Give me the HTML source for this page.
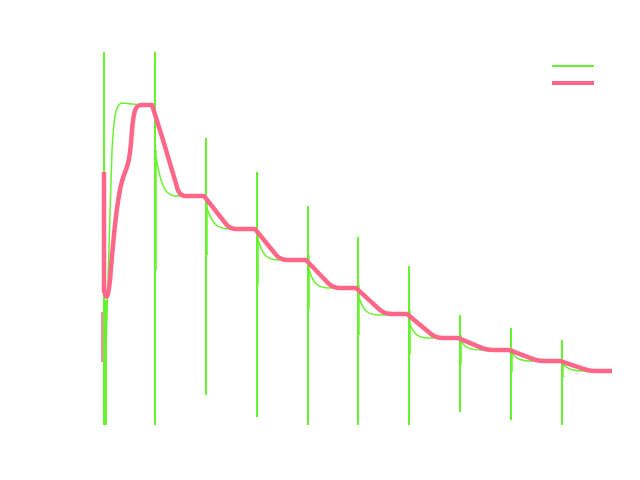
<!DOCTYPE html>
<html><head><style>body{margin:0;background:#fff}svg{display:block}</style></head><body>
<svg width="640" height="480" viewBox="0 0 640 480" xmlns="http://www.w3.org/2000/svg">
<g fill="none" stroke="#66f22e" stroke-width="2">
<path d="M104,52V425M106,300V425M155,52V425M206,138V395M257,172V417M308,206V425M358,237V425M409,266V425M460,315V412M511,328V420M562,340V425"/>
<path stroke-width="1.5" d="M156,150V270M207,200V255M258,230V285M309,255V310M359,285V335M410,310V355M461,335V365M512,348V372M563,360V378"/>
<path stroke-width="1.5" d="M106,350 C108,280 110,200 112,150 C114,115 116,104 122,103 L152,106
M155,150 C160,185 165,195 175,196 L206,196
M206,205 C212,225 218,229 230,229 L257,229
M257,235 C262,257 268,260 280,260 L308,260
M308,266 C313,285 318,288 330,288 L358,288
M358,294 C363,312 368,315 380,315 L409,315
M409,322 C414,336 419,338 430,338 L460,338
M460,340 C465,348 470,350 482,350 L511,350
M511,352 C516,359 521,361 532,361 L562,361
M562,363 C567,369 572,371 584,371 L612,371"/>
</g>
<path d="M102,312V362" stroke="#ff6688" stroke-width="1.5" fill="none"/>
<path d="M104,172V290 C106,300 108,300 110,280 C114,230 118,190 124,175 C128,165 130,160 132,130 C134,108 136,105 142,105 L152,105 L163,140 L177,187 Q179,196 186,196 L204,196 L226,224 Q230,229 236,229 L255,229 L277,256 Q281,260 288,260 L306,260 L328,283 Q333,288 340,288 L356,288 L380,310 Q385,314 392,314 L407,314 L431,334 Q436,338 443,338 L458,338 L482,348 Q487,350 494,350 L509,350 L533,359 Q538,361 545,361 L560,361 L584,369 Q589,371 596,371 L612,371" stroke="#ff6688" stroke-width="4.5" fill="none" stroke-linejoin="round"/>
<path d="M552,66H594" stroke="#66f22e" stroke-width="2"/>
<path d="M552,83H594" stroke="#ff6688" stroke-width="4"/>
</svg>
</body></html>
